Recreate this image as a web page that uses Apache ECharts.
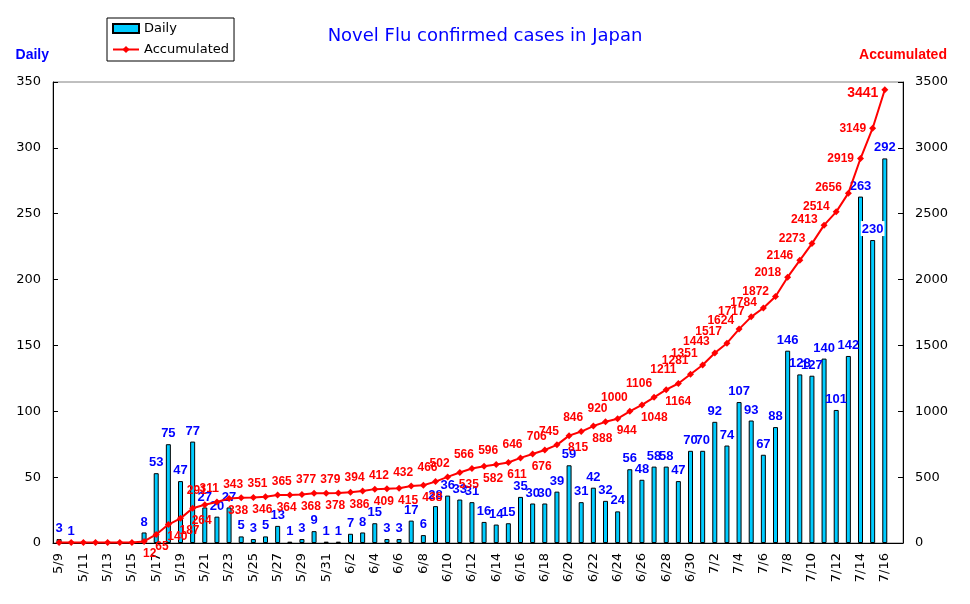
<!DOCTYPE html>
<html lang="en">
    <head>
        <meta charset="UTF-8" />
        <title>Novel Flu confirmed cases in Japan</title>
        <script src="https://cdn.jsdelivr.net/npm/echarts@6/dist/echarts.min.js"></script>
        <style>
            body {
                margin: 0;
                padding: 0;
                background: #fff;
            }
            #chart {
                width: 970px;
                height: 604px;
            }
        </style>
    </head>
    <body>
        <div id="chart"></div>
        <script>
            // 5/9 .. 7/16, plus one empty slot (7/17) at the end like the original
            const dates = [
                '5/9', '5/10', '5/11', '5/12', '5/13', '5/14', '5/15', '5/16', '5/17', '5/18',
                '5/19', '5/20', '5/21', '5/22', '5/23', '5/24', '5/25', '5/26', '5/27', '5/28',
                '5/29', '5/30', '5/31', '6/1', '6/2', '6/3', '6/4', '6/5', '6/6', '6/7',
                '6/8', '6/9', '6/10', '6/11', '6/12', '6/13', '6/14', '6/15', '6/16', '6/17',
                '6/18', '6/19', '6/20', '6/21', '6/22', '6/23', '6/24', '6/25', '6/26', '6/27',
                '6/28', '6/29', '6/30', '7/1', '7/2', '7/3', '7/4', '7/5', '7/6', '7/7',
                '7/8', '7/9', '7/10', '7/11', '7/12', '7/13', '7/14', '7/15', '7/16', '7/17'
            ];
            const daily = [
                3, 1, 0, 0, 0, 0, 0, 8, 53, 75,
                47, 77, 27, 20, 27, 5, 3, 5, 13, 1,
                3, 9, 1, 1, 7, 8, 15, 3, 3, 17,
                6, 28, 36, 33, 31, 16, 14, 15, 35, 30,
                30, 39, 59, 31, 42, 32, 24, 56, 48, 58,
                58, 47, 70, 70, 92, 74, 107, 93, 67, 88,
                146, 128, 127, 140, 101, 142, 263, 230, 292, null
            ];
            const accumulated = [
                3, 4, 4, 4, 4, 4, 4, 12, 65, 140,
                187, 264, 291, 311, 338, 343, 346, 351, 364, 365,
                368, 377, 378, 379, 386, 394, 409, 412, 415, 432,
                438, 466, 502, 535, 566, 582, 596, 611, 646, 676,
                706, 745, 815, 846, 888, 920, 944, 1000, 1048, 1106,
                1164, 1211, 1281, 1351, 1443, 1517, 1624, 1717, 1784, 1872,
                2018, 2146, 2273, 2413, 2514, 2656, 2919, 3149, 3441, null
            ];
            const dailyTicks = [0, 50, 100, 150, 200, 250, 300, 350];
            const accTicks = [0, 500, 1000, 1500, 2000, 2500, 3000, 3500];

            // where the accumulated numbers sit: below-right, above-left, or left on the steep end
            const firstAccLabel = 7;
            const belowIdx = [7, 8, 9, 10, 11, 14, 16, 18, 20, 22, 24, 26, 28, 30, 33, 35, 37, 39, 42, 44, 46, 48, 50];
            const leftFrom = 57;

            const fontAxis = 'DejaVu Sans';
            const fontBold = 'Liberation Sans';

            let dailyData = daily.map((v) => {
                if (v === 230) {
                    // this one sits on a white box in the original
                    return { value: v, label: { backgroundColor: '#fff', padding: [2, 1, 0, 1] } };
                }
                return v;
            });

            let lastIdx = accumulated.length - 2;
            let accData = accumulated.map((v, i) => {
                if (v === null) return v;
                if (i < firstAccLabel) return { value: v, label: { show: false } };
                if (belowIdx.indexOf(i) >= 0) {
                    return { value: v, label: { position: 'bottom', align: 'left', offset: [-1, -1] } };
                }
                if (i >= leftFrom) {
                    let dy = i >= 66 ? 0 : -5;
                    if (i === lastIdx) dy = 3;
                    return {
                        value: v,
                        label: { position: 'left', distance: 3, offset: [0, dy], fontSize: i === lastIdx ? 14 : 12 }
                    };
                }
                let ox = i >= 53 ? -5 : i >= 47 ? -2 : 2;
                let oy = i === 56 ? 5 : i >= 53 ? 2 : 0;
                return { value: v, label: { position: 'top', align: 'right', offset: [ox, oy] } };
            });

            let chart = echarts.init(document.getElementById('chart'));
            let option = {
                animation: false,
                backgroundColor: '#fff',
                title: {
                    text: 'Novel Flu confirmed cases in Japan',
                    left: 'center',
                    top: 22,
                    textStyle: { color: '#0000ff', fontSize: 18, fontWeight: 'normal', fontFamily: fontAxis }
                },
                legend: {
                    orient: 'vertical',
                    left: 107,
                    top: 18,
                    padding: [4, 5, 5, 5],
                    itemGap: 8,
                    itemWidth: 26,
                    itemHeight: 9,
                    borderColor: '#000',
                    borderWidth: 1,
                    backgroundColor: '#fff',
                    textStyle: { color: '#000', fontSize: 13, fontFamily: fontAxis },
                    data: [
                        { name: 'Daily', icon: 'rect' },
                        { name: 'Accumulated' }
                    ]
                },
                grid: {
                    left: 53,
                    right: 67,
                    top: 82,
                    bottom: 61,
                    show: true,
                    borderColor: '#808080',
                    borderWidth: 1
                },
                xAxis: {
                    type: 'category',
                    data: dates,
                    boundaryGap: true,
                    axisLine: { lineStyle: { color: '#000', width: 1 } },
                    axisTick: { inside: true, length: 5, interval: 0, lineStyle: { color: '#000' } },
                    axisLabel: {
                        interval: 1,
                        rotate: 90,
                        margin: 10,
                        color: '#000',
                        fontSize: 13,
                        fontFamily: fontAxis
                    },
                    splitLine: { show: false }
                },
                yAxis: [
                    {
                        type: 'value',
                        name: 'Daily',
                        nameLocation: 'end',
                        nameGap: 20,
                        nameTextStyle: {
                            color: '#0000ff',
                            fontWeight: 'bold',
                            fontSize: 14,
                            fontFamily: fontBold,
                            align: 'right',
                            padding: [0, 4, 0, 0]
                        },
                        min: dailyTicks[0],
                        max: dailyTicks[dailyTicks.length - 1],
                        interval: dailyTicks[1] - dailyTicks[0],
                        axisLine: { show: true, lineStyle: { color: '#000', width: 1 } },
                        axisTick: { show: true, inside: true, length: 5, lineStyle: { color: '#000' } },
                        axisLabel: { color: '#000', fontSize: 13, fontFamily: fontAxis, margin: 12 },
                        splitLine: { show: false }
                    },
                    {
                        type: 'value',
                        name: 'Accumulated',
                        nameLocation: 'end',
                        nameGap: 20,
                        nameTextStyle: {
                            color: '#ff0000',
                            fontWeight: 'bold',
                            fontSize: 14,
                            fontFamily: fontBold,
                            align: 'center'
                        },
                        position: 'right',
                        min: accTicks[0],
                        max: accTicks[accTicks.length - 1],
                        interval: accTicks[1] - accTicks[0],
                        axisLine: { show: true, lineStyle: { color: '#000', width: 1 } },
                        axisTick: { show: true, inside: true, length: 5, lineStyle: { color: '#000' } },
                        axisLabel: {
                            color: '#000',
                            fontSize: 13,
                            fontFamily: fontAxis,
                            margin: 12,
                            formatter: (v) => String(v)
                        },
                        splitLine: { show: false }
                    }
                ],
                series: [
                    {
                        name: 'Daily',
                        type: 'bar',
                        yAxisIndex: 0,
                        data: dailyData,
                        barWidth: 5,
                        itemStyle: { color: '#00ccff', borderColor: '#000', borderWidth: 1 },
                        label: {
                            show: true,
                            position: 'top',
                            distance: 4,
                            color: '#0000ff',
                            fontWeight: 'bold',
                            fontSize: 13,
                            fontFamily: fontBold,
                            formatter: (p) => (p.value > 0 ? p.value : '')
                        },
                        z: 2
                    },
                    {
                        name: 'Accumulated',
                        type: 'line',
                        yAxisIndex: 1,
                        data: accData,
                        symbol: 'diamond',
                        symbolSize: 7,
                        lineStyle: { color: '#ff0000', width: 2 },
                        itemStyle: { color: '#ff0000' },
                        label: {
                            show: true,
                            color: '#ff0000',
                            fontWeight: 'bold',
                            fontSize: 12,
                            fontFamily: fontBold,
                            distance: 4
                        },
                        z: 3
                    }
                ]
            };
            chart.setOption(option);
        </script>
    </body>
</html>
